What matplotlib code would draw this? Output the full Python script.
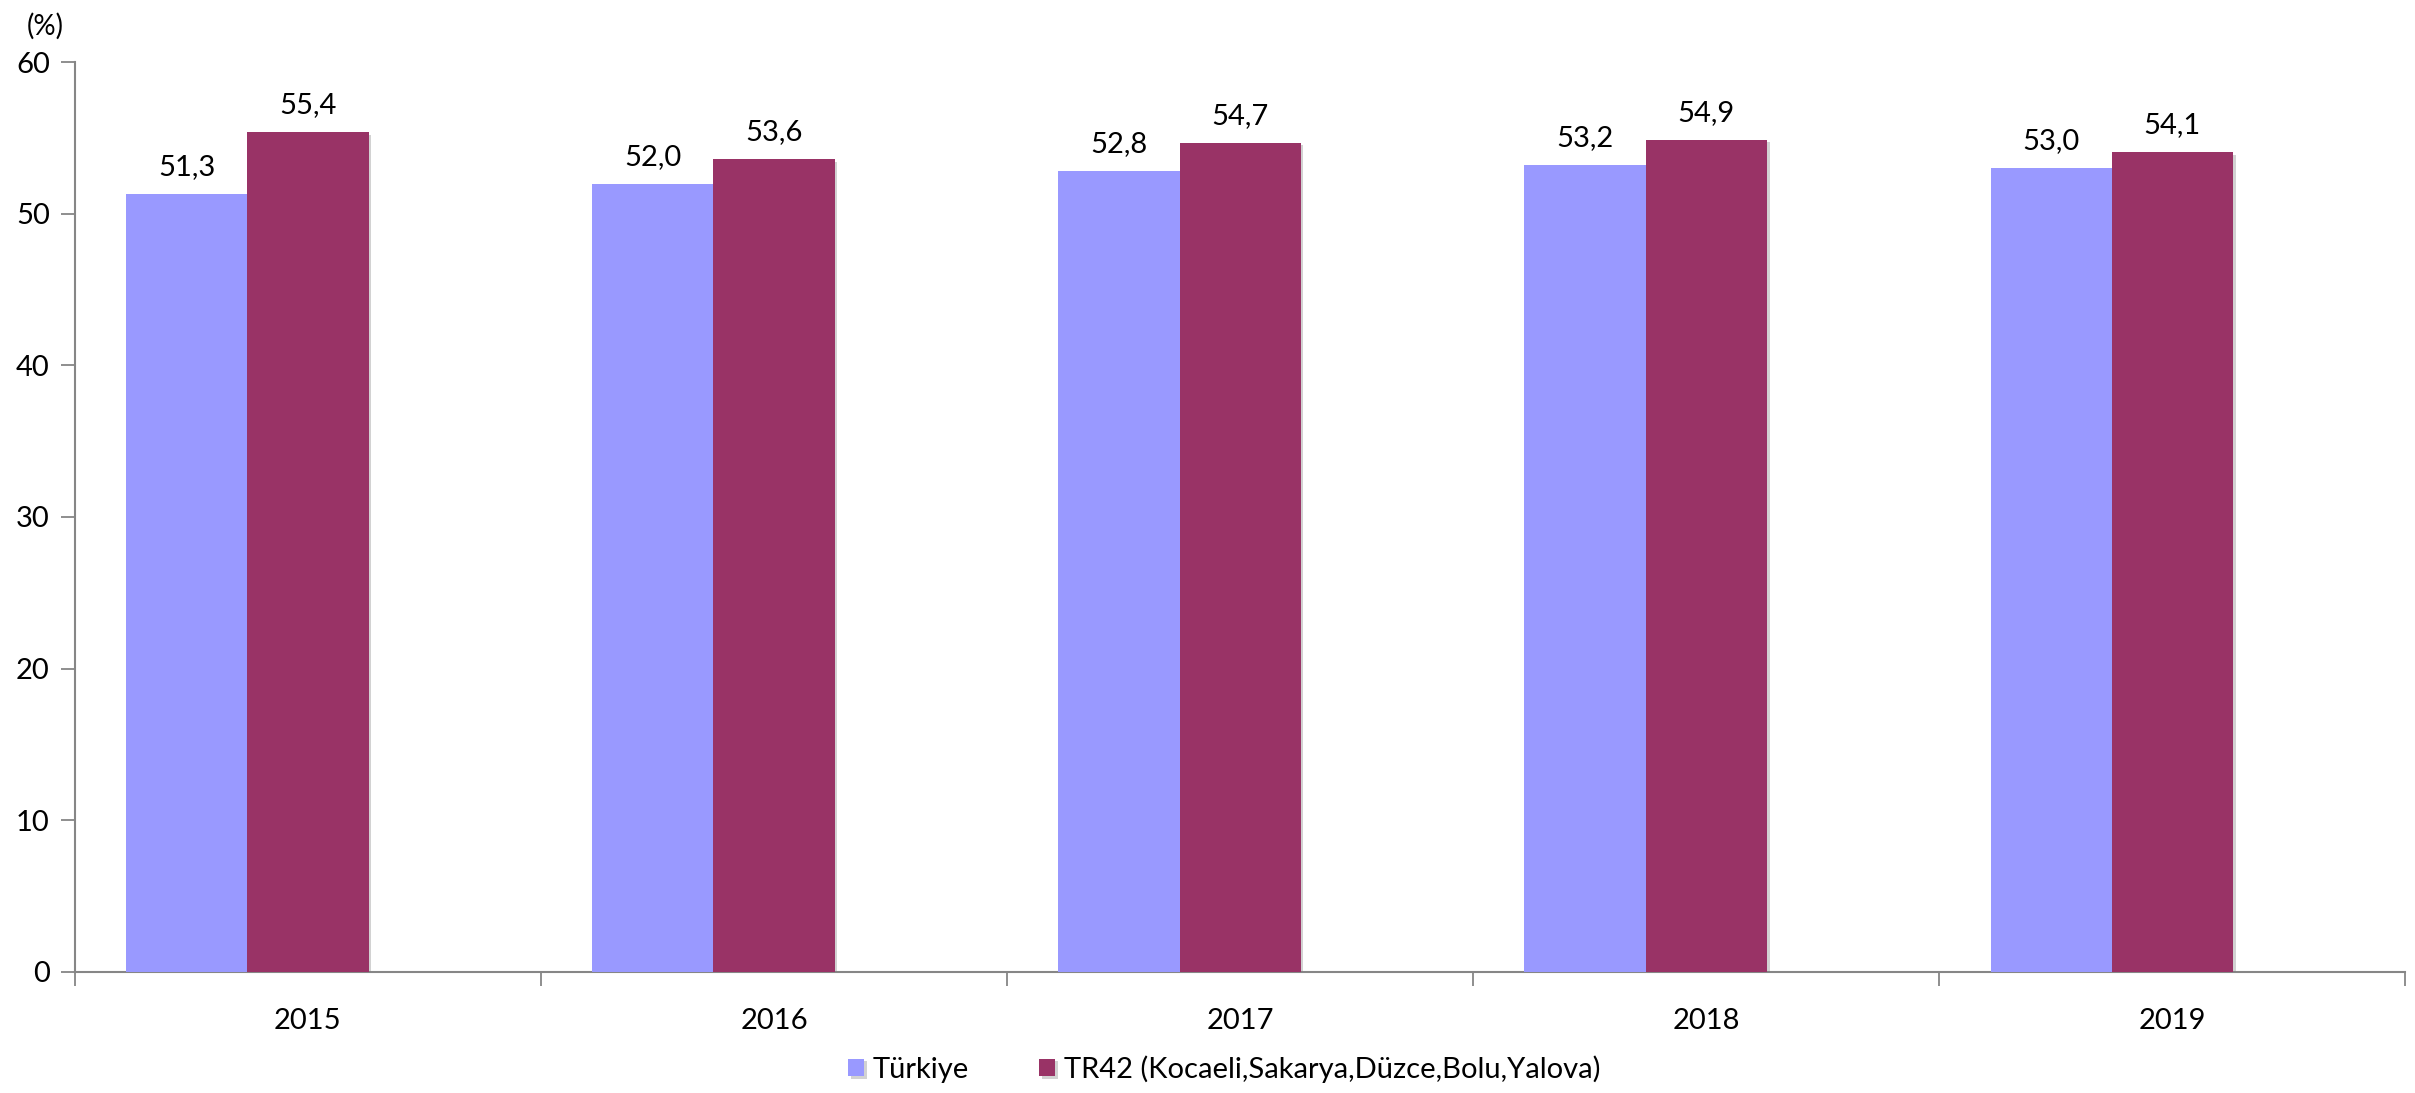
import matplotlib

matplotlib.use("Agg")
import matplotlib.pyplot as plt
import matplotlib.patheffects as pe
import numpy as np

plt.rcParams["font.family"] = ["Lato", "DejaVu Sans"]

# data
years = ["2015", "2016", "2017", "2018", "2019"]
turkiye = [51.3, 52.0, 52.8, 53.2, 53.0]
tr42 = [55.4, 53.6, 54.7, 54.9, 54.1]
series_names = ["Türkiye", "TR42 (Kocaeli,Sakarya,Düzce,Bolu,Yalova)"]
y_ticks = [0, 10, 20, 30, 40, 50, 60]

COL_TR = "#9999FF"
COL_TR42 = "#993366"
AXIS_GREY = "#868686"

fig = plt.figure(figsize=(24.15, 10.93), dpi=100)
ax = fig.add_axes([0.031, 0.111, 0.965, 0.832])

x = np.arange(len(years))
bar_w = 0.26
shadow = [pe.SimplePatchShadow(offset=(2, -2), shadow_rgbFace="#7f7f7f", alpha=0.35), pe.Normal()]

b1 = ax.bar(x - bar_w, turkiye, width=bar_w, color=COL_TR, label=series_names[0],
            path_effects=shadow, zorder=3)
b2 = ax.bar(x, tr42, width=bar_w, color=COL_TR42, label=series_names[1],
            path_effects=shadow, zorder=3)

for bars, vals in ((b1, turkiye), (b2, tr42)):
    for rect, v in zip(bars, vals):
        ax.annotate(f"{v:.1f}".replace(".", ","),
                    (rect.get_x() + rect.get_width() / 2, rect.get_height()),
                    xytext=(0, 10), textcoords="offset points",
                    ha="center", va="bottom", fontsize=21, color="black")

ax.set_xlim(-0.5, len(years) - 0.5)
ax.set_ylim(0, 60)
ax.set_yticks(y_ticks)
ax.set_yticklabels([str(t) for t in y_ticks], fontsize=21)

# category labels centred, tick marks on the boundaries
ax.set_xticks(x)
ax.set_xticklabels(years, fontsize=21)
ax.set_xticks(np.arange(-0.5, len(years)), minor=True)
ax.tick_params(axis="x", which="major", length=0, pad=26)
ax.tick_params(axis="x", which="minor", length=10, width=1.3, color=AXIS_GREY, direction="out")
ax.tick_params(axis="y", length=10, width=1.3, color=AXIS_GREY, direction="out", pad=8)

for side in ("top", "right"):
    ax.spines[side].set_visible(False)
for side in ("left", "bottom"):
    ax.spines[side].set_color(AXIS_GREY)
    ax.spines[side].set_linewidth(1.5)

fig.text(0.011, 0.988, "(%)", fontsize=20, ha="left", va="top")

fig.legend(handles=[b1, b2], labels=series_names, loc="center",
           bbox_to_anchor=(0.507, 0.022), ncol=2, frameon=False, fontsize=21,
           handlelength=0.55, handleheight=0.55, handletextpad=0.3, columnspacing=2.4)

fig.savefig("out.png", dpi=100)
plt.close("all")
